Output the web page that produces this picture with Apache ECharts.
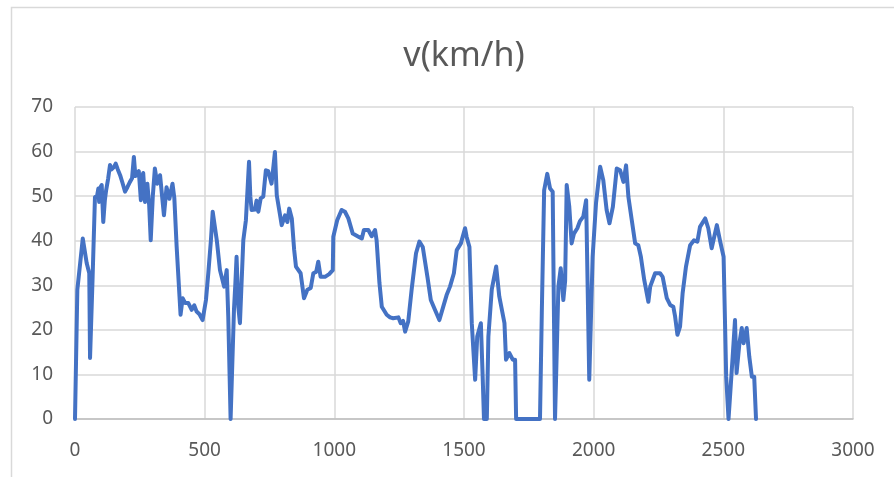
<!DOCTYPE html>
<html>
<head>
<meta charset="utf-8">
<script src="https://cdn.jsdelivr.net/npm/echarts@6/dist/echarts.min.js"></script>
<style>
html,body{margin:0;padding:0;background:#fff;}
#chart{width:894px;height:477px;}
</style>
</head>
<body>
<div id="chart"></div>
<script>
const titleText = 'v(km/h)';
const xTicks = [0, 500, 1000, 1500, 2000, 2500, 3000];
const yTicks = [0, 10, 20, 30, 40, 50, 60, 70];
const times = [0,9,20,30,45,55,58,68,77,85,90,93,98,103,109,115,120,128,135,141,150,157,165,174,183,193,202,212,220,227,233,240,246,254,258,263,270,279,286,292,300,308,317,328,343,353,364,376,383,392,407,415,425,437,450,460,469,480,492,505,514,524,531,538,547,559,575,585,591,600,605,613,618,623,630,636,649,659,671,676,681,694,700,707,716,726,736,745,758,771,778,790,797,810,819,826,836,845,852,870,883,896,909,919,930,938,947,964,980,994,996,1011,1028,1041,1054,1071,1093,1106,1114,1131,1144,1157,1163,1174,1183,1202,1215,1227,1247,1256,1265,1273,1285,1298,1315,1328,1341,1359,1372,1388,1405,1420,1433,1446,1461,1472,1488,1504,1510,1521,1530,1543,1551,1565,1572,1577,1588,1594,1607,1624,1636,1656,1662,1675,1688,1697,1701,1793,1800,1809,1821,1832,1842,1851,1864,1873,1883,1890,1896,1906,1915,1924,1937,1947,1960,1971,1983,1996,2009,2025,2037,2050,2061,2074,2089,2102,2115,2125,2134,2147,2160,2172,2182,2195,2211,2218,2237,2256,2266,2282,2295,2307,2314,2323,2333,2343,2356,2372,2387,2400,2410,2430,2442,2455,2475,2488,2501,2511,2520,2526,2536,2545,2551,2562,2571,2578,2590,2600,2610,2619,2626];
const speeds = [0,29,35,40.5,35,32.7,13.7,32,49.8,50,51.7,48.7,52,52.5,44.2,49,51.3,54,57,56,56.5,57.3,56,54.7,53,51,52,53.2,54,58.8,54.5,54.7,55.6,49.1,54,55.2,48.7,52.8,48,40.1,50,56.2,52.8,54.7,45.7,52,49.4,52.8,49.6,38.6,23.4,27.1,26,26,24.5,25.5,24.1,23.5,22.2,26.7,32.7,40,46.5,46.5,40,33.4,29.7,33.4,23,0,0,24.5,30,36.4,25,21.5,40.1,44.6,57.7,50,46.9,47,49,46.5,49.5,49.9,55.8,55.6,52.8,59.9,50.2,46,43.5,45.7,44.2,47.2,45,38,34.2,32.7,27.1,29,29.4,32.7,33,35.3,31.9,31.9,32.5,33.4,40.9,44.6,46.9,46.5,45,41.6,40.9,40.5,42.4,42.4,41,42.4,40.1,30.5,25.2,23.4,22.8,22.6,22.8,21.5,22,19.6,21.9,29,37.2,39.8,38.6,31.9,26.7,24.5,22.2,25.2,27.8,29.7,32.7,37.9,39.4,42.8,40.9,38.6,21.5,8.8,18.5,21.5,9.5,0,0,18.5,29,34.2,27.5,21.5,13.3,14.8,13.3,13.3,0,0,23.8,51.3,55,51.7,51,0,29.7,33.8,26.7,31,52.5,47.6,39.4,41.6,42.8,44.4,45.4,49.1,8.8,36.4,48.4,56.6,53.6,46.9,43.9,47.6,56.2,55.8,53.2,56.9,49.8,44.6,39.4,39,36.4,31.2,26.3,29.7,32.7,32.7,31.9,27.1,25.6,25.2,23,18.9,20.7,28.2,34.2,39,40.1,39.8,43.1,45,42.8,38.3,43.5,39.8,36.4,9.5,0,0,14,22.2,10.3,17,20.4,17,20.4,14,9.5,9.5,0];

const seriesData = times.map((t, i) => [t, speeds[i]]);
const chart = echarts.init(document.getElementById('chart'), null, {renderer: 'canvas'});
const font = "'Noto Sans', 'Open Sans', sans-serif";
chart.setOption({
  animation: false,
  backgroundColor: '#ffffff',
  title: {
    text: titleText,
    left: 459, top: 34, textAlign: 'center',
    textStyle: {fontFamily: font, fontSize: 34, fontWeight: 'normal', color: '#595959'}
  },
  graphic: [{
    type: 'rect', silent: true,
    shape: {x: 11.5, y: 7.5, width: 1000, height: 1000},
    style: {fill: 'none', stroke: '#d9d9d9', lineWidth: 1.5}
  }],
  grid: {left: 75, right: 41, top: 107, bottom: 58, containLabel: false},
  xAxis: {
    type: 'value', min: xTicks[0], max: xTicks[xTicks.length - 1], interval: 500,
    axisLine: {show: true, lineStyle: {color: '#bfbfbf', width: 1.5}},
    axisTick: {show: false},
    axisLabel: {margin: 22, fontFamily: font, fontSize: 19, color: '#595959', formatter: v => String(v)},
    splitLine: {show: true, lineStyle: {color: '#d9d9d9', width: 1.5}}
  },
  yAxis: {
    type: 'value', min: yTicks[0], max: yTicks[yTicks.length - 1], interval: 10,
    axisLine: {show: false},
    axisTick: {show: false},
    axisLabel: {margin: 22, fontFamily: font, fontSize: 19, color: '#595959', formatter: v => String(v)},
    splitLine: {show: true, lineStyle: {color: '#d9d9d9', width: 1.5}}
  },
  series: [{
    type: 'line', data: seriesData, showSymbol: false, symbol: 'none',
    lineStyle: {color: '#4472C4', width: 4, join: 'round', cap: 'round'},
    itemStyle: {color: '#4472C4'}
  }]
});
</script>
</body>
</html>
